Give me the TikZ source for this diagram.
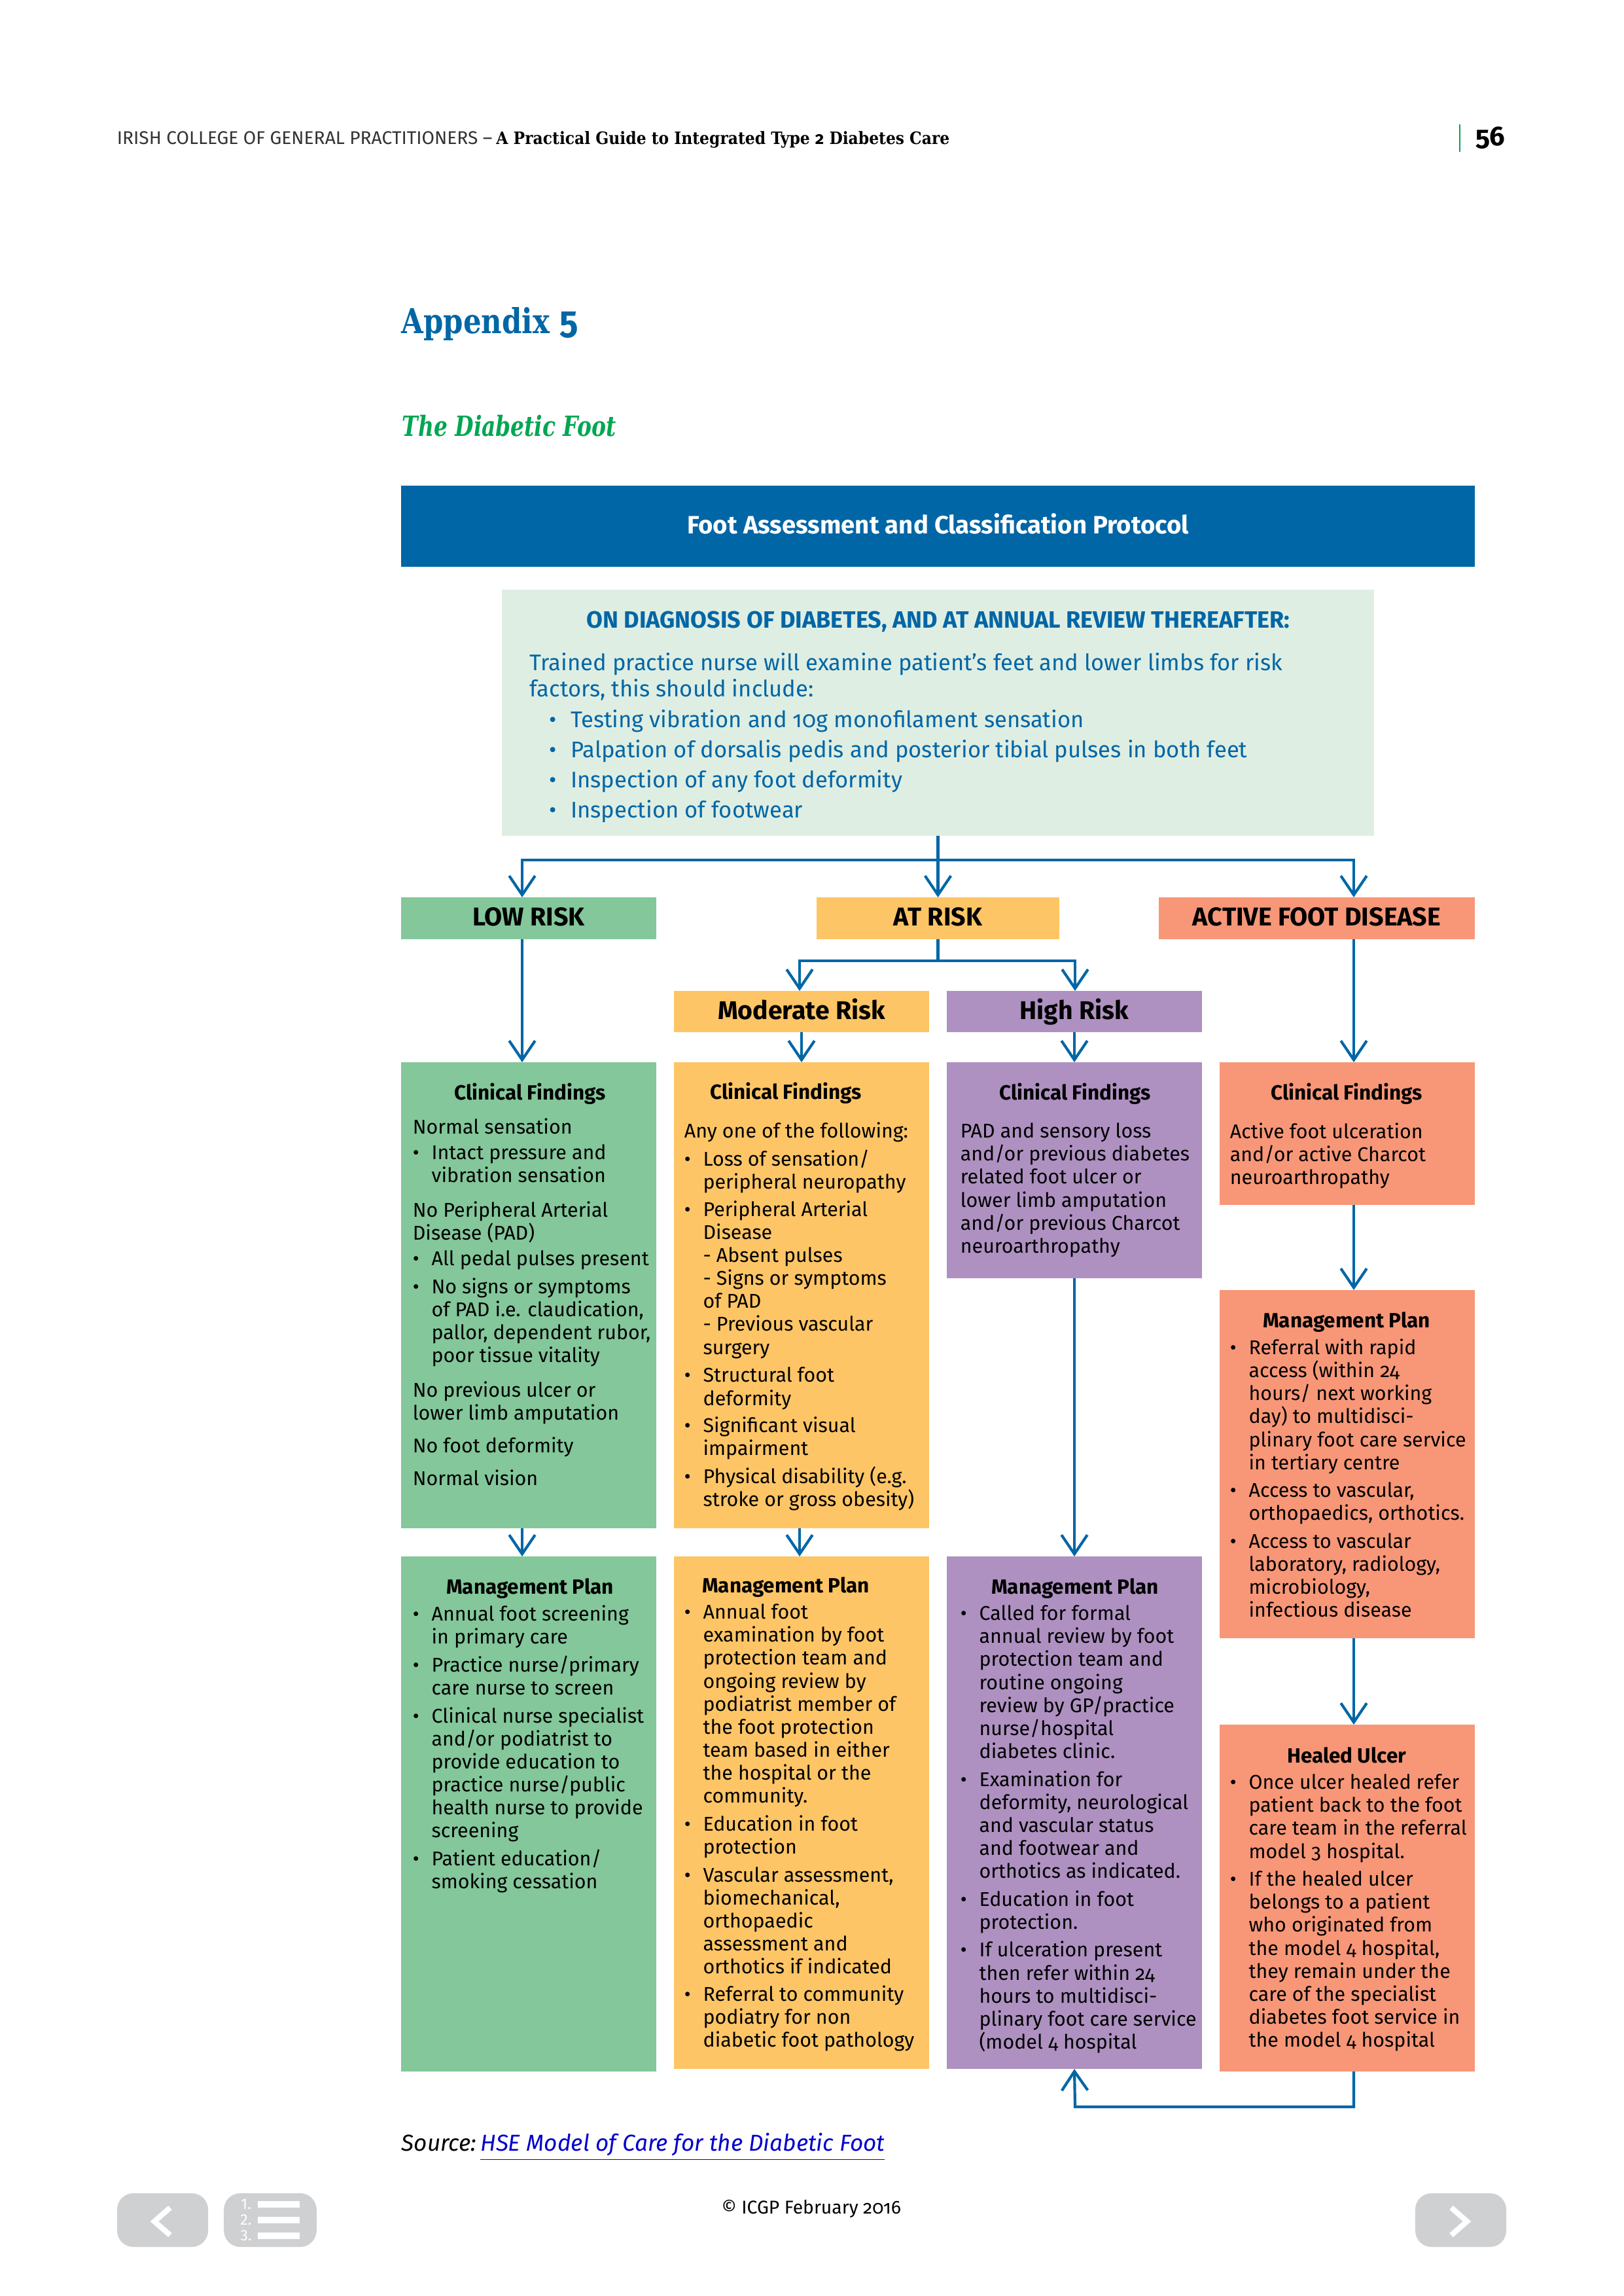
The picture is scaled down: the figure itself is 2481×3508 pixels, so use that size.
\documentclass[tikz,border=0pt]{standalone}
\usepackage{fontspec}
\usepackage{graphicx}
\setmainfont[Numbers=OldStyle]{Fira Sans}
\newfontfamily\slabFont{DejaVu Serif Condensed}
\usepackage{tikz}
\usetikzlibrary{arrows.meta,arrows}
\usetikzlibrary{positioning}
\definecolor{HeadBlue}{HTML}{0066A6}
\definecolor{PaleGreen}{HTML}{DFEEE2}
\definecolor{LowGreen}{HTML}{83C79A}
\definecolor{RiskOrange}{HTML}{FEC566}
\definecolor{HighPurple}{HTML}{AE91C1}
\definecolor{ActiveSalmon}{HTML}{F79778}
\definecolor{TitleGreen}{HTML}{00A651}
\definecolor{NavGrey}{HTML}{CFD0D2}
\definecolor{LinkBlue}{HTML}{0000CC}
\tikzset{
  blockBox/.style={inner sep=0pt, outer sep=0pt, text=black, text height=7.6pt, text depth=1.9pt},
  flow/.style={draw=HeadBlue, line width=1pt, -{Straight Barb[length=7pt,width=9.5pt]}},
  plainFlow/.style={draw=HeadBlue, line width=1pt},
  bodyText/.style={anchor=north west, inner sep=0pt, align=left, font=\fontsize{7.3}{8.43}\selectfont},
  headText/.style={inner sep=0pt, font=\fontsize{7.55}{8.45}\selectfont\bfseries},
  introText/.style={anchor=north west, inner sep=0pt, align=left, text=HeadBlue, font=\fontsize{8.3}{9.6}\selectfont},
  navBox/.style={fill=NavGrey, rounded corners=6pt, inner sep=0pt, outer sep=0pt, minimum height=19.7pt},
}
% one filled box given by its corners, text is centred in it
\newcommand{\blockBox}[7]{\node[blockBox, fill=#2, minimum width={(#5-#3)*0.24pt}, minimum height={(#6-#4)*0.24pt}]
  (#1) at ({(#3+#5)/2},{(#4+#6)/2}) {#7};}
\newcommand{\bul}{\makebox[6.9pt][l]{\textbullet}}
\newcommand{\ind}{\hspace*{6.9pt}}
\newcommand{\introBul}{\hspace*{7pt}\makebox[8pt][l]{\textbullet}}
\begin{document}
\begin{tikzpicture}[x=0.24pt, y=-0.24pt]
\useasboundingbox (0,0) rectangle (2481,3508);

% Page header
\node[anchor=base west, inner sep=0pt, font=\fontsize{6.75}{8}\selectfont, text=black!80] (pageHead) at (178,221)
  {IRISH COLLEGE OF GENERAL PRACTITIONERS --};
\node[inner sep=0pt, font=\fontsize{6.25}{8}\slabFont\bfseries, text=black, right=1pt of pageHead.base east, anchor=base west] (pageTitle)
  {A Practical Guide to Integrated Type {\rmfamily 2} Diabetes Care};
\coordinate (barTop) at (2231,190);
\coordinate (barEnd) at (2231,232);
\draw[TitleGreen, line width=0.6pt] (barTop) -- (barEnd);
\node[anchor=base west, inner sep=0pt, font=\fontsize{10}{12}\selectfont\bfseries] (pageNum) at (2255,223) {56};

% Titles
\node[anchor=base west, inner sep=0pt, text=HeadBlue, font=\fontsize{12.6}{15}\slabFont\bfseries] (appTitle) at (613,510)
  {\scalebox{0.92}[1]{Appendix {\fontsize{14}{15}\rmfamily 5}}};
\node[anchor=base west, inner sep=0pt, text=TitleGreen, font=\fontsize{10.2}{13}\slabFont\bfseries\itshape] (footTitle) at (614,667)
  {\scalebox{0.86}[1]{The Diabetic Foot}};

% Top blocks
\blockBox{protocol}{HeadBlue}{613}{742}{2254}{866}{\textcolor{white}{\fontsize{9.2}{11}\selectfont\bfseries Foot Assessment and Classification Protocol}}
\blockBox{assess}{PaleGreen}{767}{901}{2100}{1277}{}
\node[inner sep=0pt, text=HeadBlue, font=\fontsize{8.65}{9}\selectfont\bfseries] (assessHead) at (1434,950)
  {ON DIAGNOSIS OF DIABETES, AND AT ANNUAL REVIEW THEREAFTER:};
\node[introText] (assessText) at (809,997) {Trained practice nurse will examine patient’s feet and lower limbs for risk\\[0pt]
factors, this should include:\\[1.6pt]
\introBul Testing vibration and 10g monofilament sensation\\[1.4pt]
\introBul Palpation of dorsalis pedis and posterior tibial pulses in both feet\\[1.4pt]
\introBul Inspection of any foot deformity\\[1.5pt]
\introBul Inspection of footwear};

% Risk level blocks
\def\bigFont{\fontsize{9.45}{10}\selectfont\bfseries}
\blockBox{lowRisk}{LowGreen}{613}{1371}{1003}{1435}{\bigFont LOW RISK}
\blockBox{atRisk}{RiskOrange}{1248}{1371}{1619}{1435}{\bigFont AT RISK}
\blockBox{activeRisk}{ActiveSalmon}{1771}{1371}{2254}{1435}{\bigFont ACTIVE FOOT DISEASE}
\blockBox{modRisk}{RiskOrange}{1030}{1514}{1420}{1577}{\fontsize{9.4}{11}\selectfont\bfseries Moderate Risk}
\blockBox{highRisk}{HighPurple}{1447}{1514}{1837}{1577}{\fontsize{9.4}{11}\selectfont\bfseries High Risk}

% Clinical findings
\blockBox{lowFind}{LowGreen}{613}{1623}{1003}{2335}{}
\blockBox{modFind}{RiskOrange}{1030}{1623}{1420}{2335}{}
\blockBox{highFind}{HighPurple}{1447}{1623}{1837}{1953}{}
\blockBox{activeFind}{ActiveSalmon}{1864}{1623}{2254}{1841}{}

% Management plans
\blockBox{lowPlan}{LowGreen}{613}{2378}{1003}{3165}{}
\blockBox{modPlan}{RiskOrange}{1030}{2378}{1420}{3161}{}
\blockBox{highPlan}{HighPurple}{1447}{2378}{1837}{3161}{}
\blockBox{activePlan}{ActiveSalmon}{1864}{1971}{2254}{2503}{}
\blockBox{healed}{ActiveSalmon}{1864}{2635}{2254}{3165}{}

% Low risk texts
\node[headText] (lowFindHead) at (810,1671) {Clinical Findings};
\node[bodyText] (lowFindText) at (630,1708) {Normal sensation\\[.85pt]
\bul Intact pressure and\\
\ind vibration sensation\\[4.3pt]
No Peripheral Arterial\\
Disease (PAD)\\[.85pt]
\bul All pedal pulses present\\[1.85pt]
\bul No signs or symptoms\\
\ind of PAD i.e. claudication,\\
\ind pallor, dependent rubor,\\
\ind poor tissue vitality\\[4.3pt]
No previous ulcer or\\
lower limb amputation\\[3.6pt]
No foot deformity\\[3.6pt]
Normal vision};
\node[headText] (lowPlanHead) at (810,2427) {Management Plan};
\node[bodyText] (lowPlanText) at (630,2452) {\bul Annual foot screening\\
\ind in primary care\\[1.8pt]
\bul Practice nurse/primary\\
\ind care nurse to screen\\[1.8pt]
\bul Clinical nurse specialist\\
\ind and/or podiatrist to\\
\ind provide education to\\
\ind practice nurse/public\\
\ind health nurse to provide\\
\ind screening\\[1.8pt]
\bul Patient education/\\
\ind smoking cessation};

% Moderate risk texts
\node[headText] (modFindHead) at (1201,1670) {Clinical Findings};
\node[bodyText] (modFindText) at (1045,1714) {Any one of the following:\\[1.85pt]
\bul Loss of sensation/\\
\ind peripheral neuropathy\\[1.6pt]
\bul Peripheral Arterial\\
\ind Disease\\
\ind - Absent pulses\\
\ind - Signs or symptoms\\
\ind of PAD\\
\ind - Previous vascular\\
\ind surgery\\[1.85pt]
\bul Structural foot\\
\ind deformity\\[1.6pt]
\bul Significant visual\\
\ind impairment\\[1.85pt]
\bul Physical disability (e.g.\\
\ind stroke or gross obesity)};
\node[headText] (modPlanHead) at (1201,2425) {Management Plan};
\node[bodyText] (modPlanText) at (1045,2450) {\bul Annual foot\\
\ind examination by foot\\
\ind protection team and\\
\ind ongoing review by\\
\ind podiatrist member of\\
\ind the foot protection\\
\ind team based in either\\
\ind the hospital or the\\
\ind community.\\[1.8pt]
\bul Education in foot\\
\ind protection\\[1.8pt]
\bul Vascular assessment,\\
\ind biomechanical,\\
\ind orthopaedic\\
\ind assessment and\\
\ind orthotics if indicated\\[1.6pt]
\bul Referral to community\\
\ind podiatry for non\\
\ind diabetic foot pathology};

% High risk texts
\node[headText] (highFindHead) at (1643,1671) {Clinical Findings};
\node[bodyText] (highFindText) at (1467,1715) {PAD and sensory loss\\
and/or previous diabetes\\
related foot ulcer or\\
lower limb amputation\\
and/or previous Charcot\\
neuroarthropathy};
\node[headText] (highPlanHead) at (1643,2427) {Management Plan};
\node[bodyText] (highPlanText) at (1467,2452) {\bul Called for formal\\
\ind annual review by foot\\
\ind protection team and\\
\ind routine ongoing\\
\ind review by GP/practice\\
\ind nurse/hospital\\
\ind diabetes clinic.\\[1.8pt]
\bul Examination for\\
\ind deformity, neurological\\
\ind and vascular status\\
\ind and footwear and\\
\ind orthotics as indicated.\\[1.8pt]
\bul Education in foot\\
\ind protection.\\[1.8pt]
\bul If ulceration present\\
\ind then refer within 24\\
\ind hours to multidisci-\\
\ind plinary foot care service\\
\ind (model 4 hospital};

% Active foot disease texts
\node[headText] (activeFindHead) at (2058,1671) {Clinical Findings};
\node[bodyText] (activeFindText) at (1879,1715) {Active foot ulceration\\
and/or active Charcot\\
neuroarthropathy};
\node[headText] (activePlanHead) at (2058,2020) {Management Plan};
\node[bodyText] (activePlanText) at (1879,2045) {\bul Referral with rapid\\
\ind access (within 24\\
\ind hours/ next working\\
\ind day) to multidisci-\\
\ind plinary foot care service\\
\ind in tertiary centre\\[1.8pt]
\bul Access to vascular,\\
\ind orthopaedics, orthotics.\\[1.8pt]
\bul Access to vascular\\
\ind laboratory, radiology,\\
\ind microbiology,\\
\ind infectious disease};
\node[headText] (healedHead) at (2058,2682) {Healed Ulcer};
\node[bodyText] (healedText) at (1879,2710) {\bul Once ulcer healed refer\\
\ind patient back to the foot\\
\ind care team in the referral\\
\ind model 3 hospital.\\[1.8pt]
\bul If the healed ulcer\\
\ind belongs to a patient\\
\ind who originated from\\
\ind the model 4 hospital,\\
\ind they remain under the\\
\ind care of the specialist\\
\ind diabetes foot service in\\
\ind the model 4 hospital};

% Connector columns
\coordinate (lowX) at (798,1314);
\coordinate (activeX) at (2069,1314);
\coordinate (modX) at (1222,1468);
\coordinate (highX) at (1643,1468);
\coordinate (loopY) at (1643,3219);

% Assessment to risk levels
\draw[plainFlow] (assess.south) -- (assess.south |- lowX);
\draw[flow] (assess.south) -- (atRisk.north);
\draw[flow] (lowX -| assess.south) -- (lowX) -- (lowRisk.north -| lowX);
\draw[flow] (lowX -| assess.south) -- (activeX) -- (activeRisk.north -| activeX);

% At risk split
\draw[plainFlow] (atRisk.south) -- (atRisk.south |- modX);
\draw[flow] (atRisk.south |- modX) -- (modX) -- (modRisk.north -| modX);
\draw[flow] (atRisk.south |- modX) -- (highX) -- (highRisk.north -| highX);

% Down the columns
\draw[flow] (lowRisk.south -| lowX) -- (lowFind.north -| lowX);
\draw[flow] (lowFind.south -| lowX) -- (lowPlan.north -| lowX);
\draw[flow] (modRisk.south) -- (modFind.north);
\draw[flow] (modFind.south -| modX) -- (modPlan.north -| modX);
\draw[flow] (highRisk.south) -- (highFind.north);
\draw[flow] (highFind.south) -- (highPlan.north);
\draw[flow] (activeRisk.south -| activeX) -- (activeFind.north -| activeX);
\draw[flow] (activeFind.south -| activeX) -- (activePlan.north -| activeX);
\draw[flow] (activePlan.south -| activeX) -- (healed.north -| activeX);

% Healed ulcer back to high risk plan
\draw[flow] (healed.south -| activeX) -- (loopY -| activeX) -- (loopY) -- (highPlan.south);

% Source line and footer
\node[anchor=base west, inner sep=0pt, font=\fontsize{8.45}{10}\selectfont\itshape] (sourceText) at (613,3286)
  {Source:\hspace{-1.5pt} \textcolor{LinkBlue}{\underline{HSE Model of Care for the Diabetic Foot}}};
\node[inner sep=0pt, font=\fontsize{6.8}{8}\selectfont] (copyText) at (1240,3375) {© ICGP February 2016};

% Navigation buttons
\node[navBox, minimum width=33.4pt] (navBack) at (248.5,3392) {};
\node[navBox, minimum width=34pt] (navList) at (413,3392) {};
\node[navBox, minimum width=33.4pt] (navNext) at (2232.5,3392) {};
\coordinate (backA) at (260,3373); \coordinate (backB) at (236,3394); \coordinate (backC) at (260,3415);
\draw[white, line width=2pt] (backA) -- (backB) -- (backC);
\coordinate (nextA) at (2218,3373); \coordinate (nextB) at (2242,3394); \coordinate (nextC) at (2218,3415);
\draw[white, line width=2pt] (nextA) -- (nextB) -- (nextC);
\foreach \y/\n in {3368/1, 3392/2, 3416/3} {
  \node[inner sep=0pt, text=white, font=\fontsize{5.6}{6}\selectfont\addfontfeature{Numbers=Lining}] (navNum\n) at (376,\y) {\n.};
  \node[fill=white, inner sep=0pt, minimum width=15.4pt, minimum height=2.3pt] (navBar\n) at (426,\y) {};
}
\end{tikzpicture}
\end{document}
